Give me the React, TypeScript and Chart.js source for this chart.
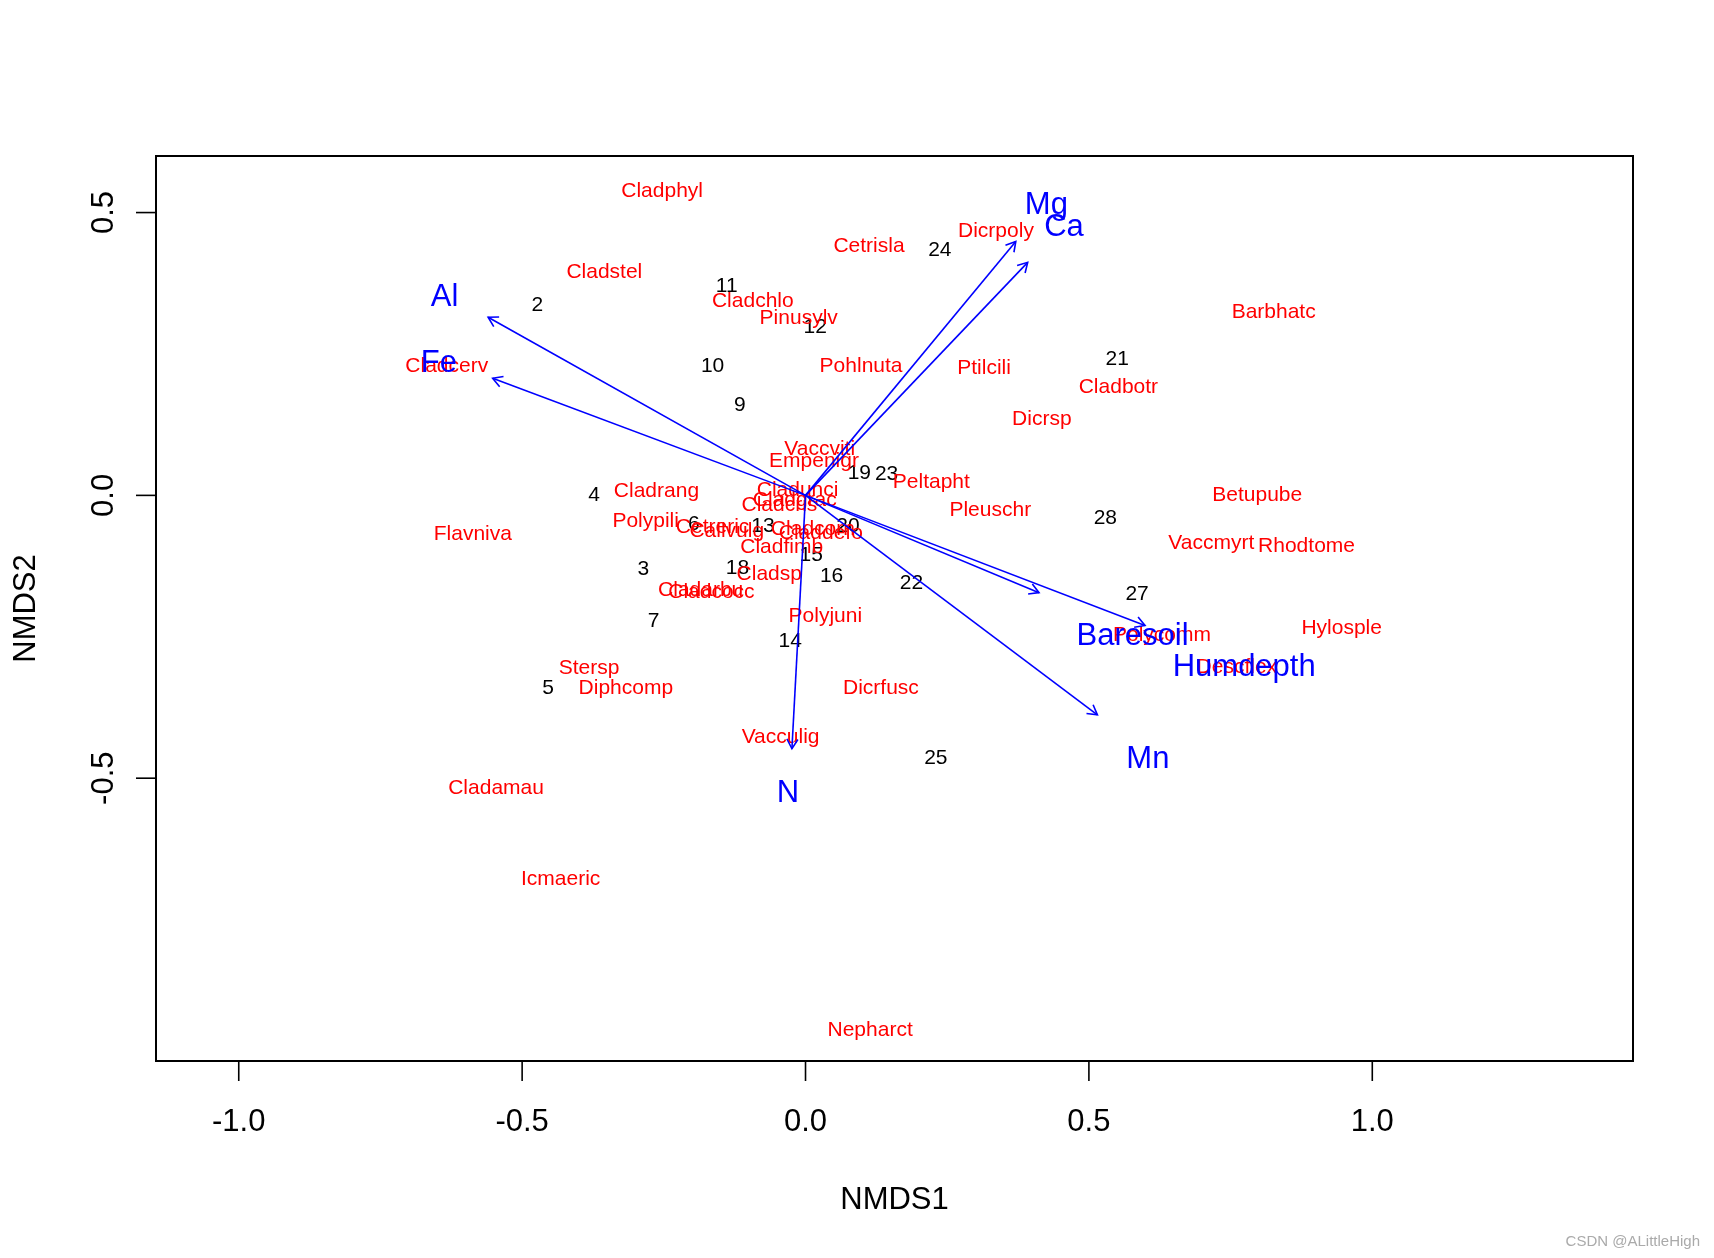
import React, { useEffect, useRef } from "react";
import { Chart, registerables } from "chart.js";
Chart.register(...registerables);

// ---- axis ranges and ticks ----
const X_MIN = -1.146;
const X_MAX = 1.46;
const Y_MIN = -1.0;
const Y_MAX = 0.6;
const X_TICKS = [-1, -0.5, 0, 0.5, 1];
const X_TICK_LABELS = ["-1.0", "-0.5", "0.0", "0.5", "1.0"];
const Y_TICKS = [-0.5, 0, 0.5];
const Y_TICK_LABELS = ["-0.5", "0.0", "0.5"];
const X_TITLE = "NMDS1";
const Y_TITLE = "NMDS2";
const WATERMARK = "CSDN @ALittleHigh";

// ---- species scores (red) ----
const SPECIES = [
  "Cladphyl", "Cladstel", "Cetrisla", "Dicrpoly", "Cladchlo", "Pinusylv", "Barbhatc", "Cladcerv",
  "Pohlnuta", "Ptilcili", "Cladbotr", "Dicrsp", "Vaccviti", "Empenigr", "Peltapht", "Cladunci",
  "Cladcris", "Cladgrac", "Cladrang", "Polypili", "Cetreric", "Callvulg", "Cladcorn", "Claddefo",
  "Flavniva", "Cladfimb", "Cladsp", "Cladarbu", "Cladcocc", "Polyjuni", "Stersp", "Diphcomp",
  "Dicrfusc", "Vacculig", "Cladamau", "Icmaeric", "Nepharct", "Pleuschr", "Betupube", "Vaccmyrt",
  "Rhodtome", "Hylosple", "Polycomm", "Descflex",
];
const SPECIES_X = [
  -0.253, -0.355, 0.112, 0.336, -0.093, -0.012, 0.826, -0.633,
  0.098, 0.315, 0.552, 0.417, 0.025, 0.015, 0.222, -0.014,
  -0.046, -0.019, -0.263, -0.282, -0.164, -0.139, 0.013, 0.027,
  -0.587, -0.042, -0.064, -0.185, -0.166, 0.035, -0.382, -0.317,
  0.133, -0.044, -0.546, -0.432, 0.114, 0.326, 0.797, 0.716,
  0.884, 0.946, 0.629, 0.761,
];
const SPECIES_Y = [
  0.540, 0.398, 0.443, 0.470, 0.346, 0.317, 0.327, 0.232,
  0.232, 0.228, 0.195, 0.137, 0.085, 0.064, 0.027, 0.012,
  -0.014, -0.006, 0.010, -0.043, -0.054, -0.060, -0.056, -0.064,
  -0.066, -0.089, -0.137, -0.164, -0.168, -0.211, -0.302, -0.338,
  -0.337, -0.424, -0.515, -0.675, -0.942, -0.023, 0.004, -0.081,
  -0.087, -0.232, -0.244, -0.300,
];

// ---- site scores (black) ----
const SITES = [
  "24", "11", "2", "12", "21", "10", "9", "19", "23", "4", "28", "6",
  "13", "20", "15", "3", "18", "16", "22", "27", "7", "14", "5", "25",
];
const SITES_X = [
  0.237, -0.139, -0.473, 0.017, 0.550, -0.164, -0.116, 0.095, 0.143, -0.373, 0.529, -0.197,
  -0.075, 0.075, 0.010, -0.286, -0.120, 0.046, 0.187, 0.585, -0.268, -0.027, -0.454, 0.230,
];
const SITES_Y = [
  0.437, 0.373, 0.340, 0.300, 0.244, 0.232, 0.162, 0.043, 0.041, 0.004, -0.037, -0.048,
  -0.052, -0.052, -0.103, -0.128, -0.126, -0.139, -0.153, -0.172, -0.219, -0.255, -0.338, -0.462,
];

// ---- environmental vectors (blue) ----
const ENV = ["Al", "Fe", "Mg", "Ca", "Baresoil", "Humdepth", "Mn", "N"];
const ENV_X = [-0.560, -0.552, 0.371, 0.392, 0.412, 0.599, 0.515, -0.024];
const ENV_Y = [0.315, 0.207, 0.449, 0.412, -0.172, -0.230, -0.388, -0.448];
const ENV_LABEL_X = [-0.637, -0.647, 0.425, 0.456, 0.577, 0.774, 0.604, -0.031];
const ENV_LABEL_Y = [0.354, 0.238, 0.518, 0.478, -0.244, -0.300, -0.462, -0.522];

const FONT = '"Liberation Sans", Arial, Helvetica, sans-serif';

function drawCentered(ctx: CanvasRenderingContext2D, text: string, x: number, y: number, size: number, color: string) {
  ctx.font = `${size}px ${FONT}`;
  ctx.fillStyle = color;
  ctx.textAlign = "center";
  ctx.textBaseline = "alphabetic";
  ctx.fillText(text, x, y + size * 0.36);
}

const ordiPlugin = {
  id: "ordiText",
  beforeDatasetsDraw(chart: any) {
    const ctx = chart.ctx as CanvasRenderingContext2D;
    ctx.save();
    chart.data.datasets.forEach((ds: any, i: number) => {
      if (!ds.textLabels || ds.drawAfter) return;
      const meta = chart.getDatasetMeta(i);
      meta.data.forEach((el: any, j: number) => {
        drawCentered(ctx, ds.textLabels[j], el.x, el.y, ds.textSize, ds.textColor);
      });
    });
    ctx.restore();
  },
  afterDatasetsDraw(chart: any) {
    const ctx = chart.ctx as CanvasRenderingContext2D;
    ctx.save();
    // arrowheads
    chart.data.datasets.forEach((ds: any, i: number) => {
      if (!ds.isArrow) return;
      const meta = chart.getDatasetMeta(i);
      const p0 = meta.data[0];
      const p1 = meta.data[1];
      const ang = Math.atan2(p1.y - p0.y, p1.x - p0.x);
      const len = 11;
      const spread = Math.PI / 6;
      ctx.strokeStyle = ds.borderColor;
      ctx.lineWidth = 1.6;
      ctx.beginPath();
      ctx.moveTo(p1.x - len * Math.cos(ang - spread), p1.y - len * Math.sin(ang - spread));
      ctx.lineTo(p1.x, p1.y);
      ctx.lineTo(p1.x - len * Math.cos(ang + spread), p1.y - len * Math.sin(ang + spread));
      ctx.stroke();
    });
    // labels drawn on top
    chart.data.datasets.forEach((ds: any, i: number) => {
      if (!ds.textLabels || !ds.drawAfter) return;
      const meta = chart.getDatasetMeta(i);
      meta.data.forEach((el: any, j: number) => {
        drawCentered(ctx, ds.textLabels[j], el.x, el.y, ds.textSize, ds.textColor);
      });
    });
    ctx.restore();
  },
  afterDraw(chart: any) {
    const ctx = chart.ctx as CanvasRenderingContext2D;
    const a = chart.chartArea;
    const xs = chart.scales.x;
    const ys = chart.scales.y;
    ctx.save();
    ctx.strokeStyle = "#000";
    ctx.lineWidth = 2;
    ctx.strokeRect(a.left, a.top, a.right - a.left, a.bottom - a.top);
    ctx.lineWidth = 1.6;
    const tickLen = 20;
    const axisSize = 31;
    X_TICKS.forEach((v, i) => {
      const px = xs.getPixelForValue(v);
      ctx.beginPath();
      ctx.moveTo(px, a.bottom);
      ctx.lineTo(px, a.bottom + tickLen);
      ctx.stroke();
      drawCentered(ctx, X_TICK_LABELS[i], px, a.bottom + 59, axisSize, "#000");
    });
    Y_TICKS.forEach((v, i) => {
      const py = ys.getPixelForValue(v);
      ctx.beginPath();
      ctx.moveTo(a.left, py);
      ctx.lineTo(a.left - tickLen, py);
      ctx.stroke();
      ctx.save();
      ctx.translate(a.left - 54, py);
      ctx.rotate(-Math.PI / 2);
      drawCentered(ctx, Y_TICK_LABELS[i], 0, 0, axisSize, "#000");
      ctx.restore();
    });
    // axis titles
    drawCentered(ctx, X_TITLE, (a.left + a.right) / 2, a.bottom + 137, axisSize, "#000");
    ctx.save();
    ctx.translate(a.left - 132, (a.top + a.bottom) / 2);
    ctx.rotate(-Math.PI / 2);
    drawCentered(ctx, Y_TITLE, 0, 0, axisSize, "#000");
    ctx.restore();
    // watermark
    ctx.font = `15px ${FONT}`;
    ctx.fillStyle = "#aaaaaa";
    ctx.textAlign = "right";
    ctx.textBaseline = "alphabetic";
    ctx.fillText(WATERMARK, 1700, 1246);
    ctx.restore();
  },
};

export default function App() {
  const ref = useRef<HTMLCanvasElement | null>(null);
  useEffect(() => {
    if (!ref.current) return;
    const arrowSets = ENV.map((name, i) => ({
      label: name,
      data: [
        { x: 0, y: 0 },
        { x: ENV_X[i], y: ENV_Y[i] },
      ],
      showLine: true,
      borderColor: "#0000FF",
      borderWidth: 1.6,
      pointRadius: 0,
      pointHoverRadius: 0,
      isArrow: true,
      clip: false,
    }));
    const chart = new Chart(ref.current, {
      type: "scatter",
      data: {
        datasets: [
          ...arrowSets,
          {
            label: "env labels",
            data: ENV.map((_, i) => ({ x: ENV_LABEL_X[i], y: ENV_LABEL_Y[i] })),
            pointRadius: 0,
            textLabels: ENV,
            textColor: "#0000FF",
            textSize: 31,
            drawAfter: true,
          },
          {
            label: "sites",
            data: SITES.map((_, i) => ({ x: SITES_X[i], y: SITES_Y[i] })),
            pointRadius: 0,
            textLabels: SITES,
            textColor: "#000000",
            textSize: 21,
          },
          {
            label: "species",
            data: SPECIES.map((_, i) => ({ x: SPECIES_X[i], y: SPECIES_Y[i] })),
            pointRadius: 0,
            textLabels: SPECIES,
            textColor: "#FF0000",
            textSize: 21,
          },
        ] as any,
      },
      options: {
        responsive: false,
        animation: false,
        devicePixelRatio: 1,
        layout: { padding: { left: 156, right: 81, top: 156, bottom: 197 } },
        plugins: { legend: { display: false }, tooltip: { enabled: false } },
        events: [],
        scales: {
          x: { type: "linear", min: X_MIN, max: X_MAX, display: false },
          y: { type: "linear", min: Y_MIN, max: Y_MAX, display: false },
        },
      } as any,
      plugins: [ordiPlugin],
    });
    return () => chart.destroy();
  }, []);
  return (
    <div style={{ position: "fixed", left: 0, top: 0, width: 1714, height: 1258, background: "#fff" }}>
      <canvas ref={ref} width={1714} height={1258} style={{ display: "block" }} />
    </div>
  );
}
